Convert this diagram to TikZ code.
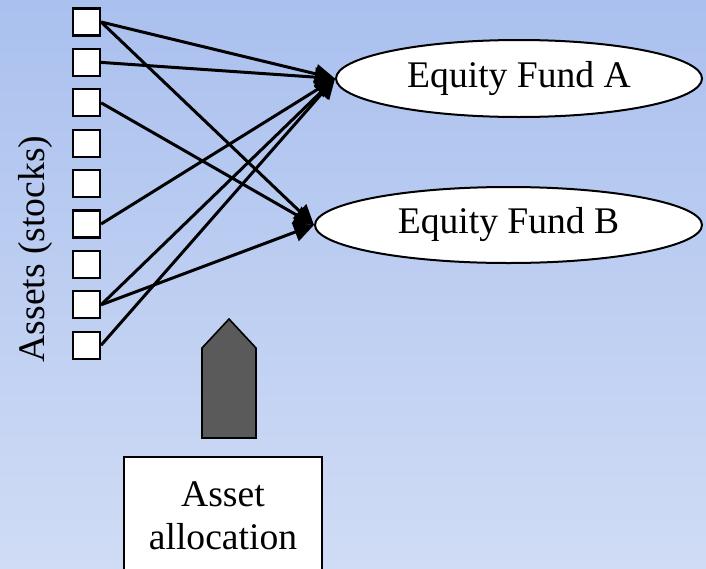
\documentclass[tikz,border=0pt]{standalone}
\usepackage{fontspec}
\setmainfont{Liberation Serif}
\usepackage{tikz}
\usetikzlibrary{shapes, arrows.meta, positioning, calc}

\definecolor{bgtop}{RGB}{170,192,238}
\definecolor{bgbot}{RGB}{208,220,245}
\definecolor{pushgray}{RGB}{90,90,90}

\begin{document}
\begin{tikzpicture}[x=1pt, y=-1pt, node distance=11.2pt,
        font=\fontsize{37.6}{43}\selectfont,
        asset/.style={rectangle, draw, fill=white, line width=2.2pt, minimum size=27pt, inner sep=0pt},
        fund/.style={ellipse, draw, fill=white, line width=2pt, inner sep=0pt},
        block/.style={rectangle, draw, fill=white, line width=2pt, text centered, align=center, minimum width=198pt, minimum height=118pt},
        line/.style={draw, line width=3pt, -{Triangle[length=20pt,width=19pt]}}]
        \useasboundingbox (0,0) rectangle (706,568);
        \clip (0,0) rectangle (706,568);
        \shade[top color=bgtop, bottom color=bgbot] (0,0) rectangle (706,568);

        \node [asset] (s1) at (86.5,22) {};
        \node [asset, below=of s1] (s2) {};
        \node [asset, below=of s2] (s3) {};
        \node [asset, below=of s3] (s4) {};
        \node [asset, below=of s4] (s5) {};
        \node [asset, below=of s5] (s6) {};
        \node [asset, below=of s6] (s7) {};
        \node [asset, below=of s7] (s8) {};
        \node [asset, below=of s8] (s9) {};
        \node [rotate=90] (assets) at (35,249) {Assets (stocks)};

        \node [fund, minimum width=366pt, minimum height=77pt] (fundA) at (519,78.5) {Equity Fund A};
        \node [fund, minimum width=387pt, minimum height=76pt] (fundB) at (508.5,225) {Equity Fund B};

        \path [line] (s1.east) -- (fundA.west);
        \path [line] (s1.east) -- (fundB.west);
        \path [line] (s2.east) -- (fundA.west);
        \path [line] (s3.east) -- (fundB.west);
        \path [line] (s6.east) -- (fundA.west);
        \path [line] (s8.east) -- (fundA.west);
        \path [line] (s8.east) -- (fundB.west);
        \path [line] (s9.east) -- (fundA.west);

        % push arrow from the allocation box
        \draw [fill=pushgray, line width=1.6pt] (202,438) -- (202,348) -- (229,319) -- (256,348) -- (256,438) -- cycle;
        \node [block, anchor=north] (alloc) at (223,456) {Asset\\allocation};

    \end{tikzpicture}
\end{document}
